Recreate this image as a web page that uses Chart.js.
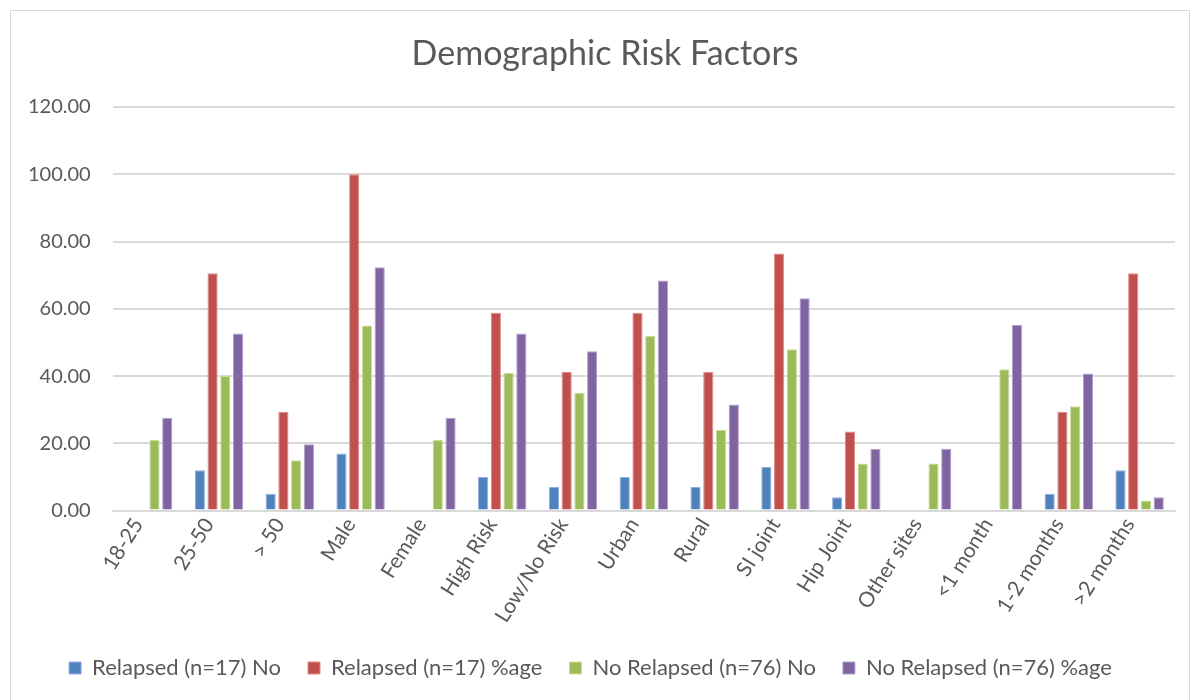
<!DOCTYPE html>
<html>
<head>
<meta charset="utf-8">
<script src="https://cdn.jsdelivr.net/npm/chart.js@4/dist/chart.umd.min.js"></script>
<style>
  html, body { margin: 0; padding: 0; background: #fff; }
  #frame {
    position: absolute; left: 10px; top: 10px; width: 1180px; height: 700px;
    border: 1px solid #d9d9d9; box-sizing: border-box;
  }
  #wrap { position: absolute; left: 0; top: 0; width: 1193px; height: 700px; }
  #title {
    position: absolute; left: 305px; top: 30px; width: 600px; text-align: center;
    font: 34px Lato, "Open Sans", sans-serif; color: #595959; line-height: 44px;
  }
</style>
</head>
<body>
<div id="frame"></div>
<div id="wrap"><canvas id="chart"></canvas></div>
<div id="title">Demographic Risk Factors</div>
<script>
// Demographic risk factors chart
const categories = ['18-25', '25-50', '> 50', 'Male', 'Female', 'High Risk', 'Low/No Risk',
    'Urban', 'Rural', 'SI joint', 'Hip Joint', 'Other sites', '<1 month', '1-2 months', '>2 months'];

const relapsedNo = [0, 12, 5, 17, 0, 10, 7, 10, 7, 13, 4, 0, 0, 5, 12];
const relapsedPct = [0, 70.59, 29.41, 100, 0, 58.82, 41.18, 58.82, 41.18, 76.47, 23.53, 0, 0, 29.41, 70.59];
const noRelapsedNo = [21, 40, 15, 55, 21, 41, 35, 52, 24, 48, 14, 14, 42, 31, 3];
const noRelapsedPct = [27.63, 52.63, 19.74, 72.37, 27.63, 52.63, 47.37, 68.42, 31.58, 63.16, 18.42, 18.42, 55.26, 40.79, 3.95];

const seriesNames = ['Relapsed (n=17) No', 'Relapsed (n=17) %age', 'No Relapsed (n=76) No', 'No Relapsed (n=76) %age'];
const yTicks = [0, 20, 40, 60, 80, 100, 120];

const textColor = '#595959';
const fontFamily = 'Lato, "Open Sans", sans-serif';

function makeSet(label, data, fill, edge) {
    return {
        label: label,
        data: data,
        backgroundColor: fill,
        borderColor: edge,
        borderWidth: 1,
        categoryPercentage: 0.72,
        barPercentage: 0.8
    };
}

const ctx = document.getElementById('chart').getContext('2d');
new Chart(ctx, {
    type: 'bar',
    data: {
        labels: categories,
        datasets: [
            makeSet(seriesNames[0], relapsedNo, '#4F81BD', '#8fb0dc'),
            makeSet(seriesNames[1], relapsedPct, '#C0504D', '#e08a88'),
            makeSet(seriesNames[2], noRelapsedNo, '#9BBB59', '#c8dd9c'),
            makeSet(seriesNames[3], noRelapsedPct, '#8064A2', '#b3a0cc')
        ]
    },
    options: {
        responsive: true,
        maintainAspectRatio: false,
        animation: false,
        layout: { padding: { left: 6, right: 18, top: 107, bottom: 11 } },
        scales: {
            x: {
                grid: { display: false, drawTicks: false },
                border: { color: '#d9d9d9', width: 2 },
                ticks: {
                    color: textColor,
                    font: { family: fontFamily, size: 21 },
                    autoSkip: false,
                    minRotation: 58,
                    maxRotation: 58,
                    labelOffset: -10,
                    padding: 3
                }
            },
            y: {
                min: yTicks[0],
                max: yTicks[yTicks.length - 1],
                afterBuildTicks: (axis) => { axis.ticks = yTicks.map(v => ({ value: v })); },
                grid: { color: '#d9d9d9', lineWidth: 2, drawTicks: false },
                border: { display: false },
                ticks: {
                    color: textColor,
                    font: { family: fontFamily, size: 20 },
                    padding: 22,
                    callback: (value) => Number(value).toFixed(2)
                }
            }
        },
        plugins: {
            title: { display: false },
            legend: {
                position: 'bottom',
                labels: {
                    color: textColor,
                    font: { family: fontFamily, size: 22 },
                    boxWidth: 12,
                    boxHeight: 12,
                    padding: 27,
                    useBorderRadius: false
                }
            },
            tooltip: { enabled: false }
        }
    }
});
</script>
</body>
</html>
